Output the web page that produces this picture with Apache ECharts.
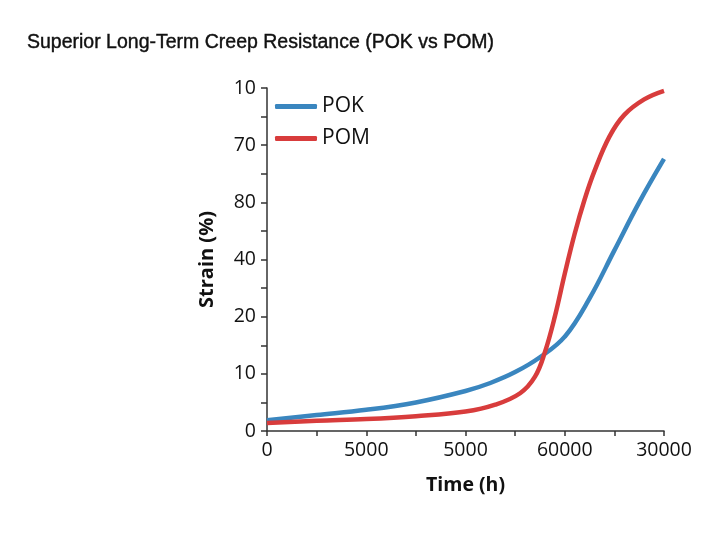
<!DOCTYPE html>
<html>
  <head>
    <meta charset="utf-8" />
    <title>Creep Resistance</title>
    <script src="https://cdn.jsdelivr.net/npm/echarts@6/dist/echarts.min.js"></script>
    <style>
      body { margin: 0; background: #fff; }
    </style>
  </head>
  <body>
    <div id="main" style="width: 714px; height: 540px"></div>
    <script type="text/javascript">
      // tick labels as printed on the original (positions are evenly spaced)
      var xTickLabels = ["0", "5000", "5000", "60000", "30000"];
      var yTickLabels = ["0", "10", "20", "40", "80", "70", "10"];

      // curves, in tick-position units [x, y]
      var pokData = [
        [0, 0.19], [0.5, 0.28], [1.0, 0.37], [1.5, 0.5], [2.0, 0.7],
        [2.25, 0.84], [2.5, 1.03], [2.75, 1.29], [3.0, 1.65], [3.25, 2.32],
        [3.5, 3.16], [3.75, 4.0], [4.0, 4.76]
      ];
      var pomData = [
        [0, 0.14], [0.5, 0.18], [1.0, 0.21], [1.5, 0.26], [2.0, 0.34],
        [2.3, 0.46], [2.55, 0.66], [2.7, 0.95], [2.8, 1.38], [2.9, 2.0],
        [3.0, 2.75], [3.1, 3.45], [3.2, 4.05], [3.3, 4.55], [3.45, 5.15],
        [3.6, 5.53], [3.8, 5.8], [4.0, 5.95]
      ];

      var myChart = echarts.init(document.getElementById("main"));

      var axisFont = { fontFamily: "Open Sans", fontSize: 19.5, color: "#111" };
      var axisStroke = { color: "#333", width: 1.5 };

      var option = {
        animation: false,
        title: {
          text: "Superior Long-Term Creep Resistance (POK vs POM)",
          left: 22,
          top: 28,
          textStyle: {
            fontFamily: "Liberation Sans", fontSize: 19.5, fontWeight: "normal", color: "#111",
            textBorderColor: "#111", textBorderWidth: 0.4
          }
        },
        legend: {
          orient: "vertical",
          left: 270,
          top: 91,
          itemGap: 11,
          itemWidth: 42,
          itemHeight: 5,
          icon: "roundRect",
          textStyle: { fontFamily: "Open Sans", fontSize: 21, color: "#111" },
          data: ["POK", "POM"]
        },
        grid: { left: 267, right: 50, top: 88, bottom: 109 },
        xAxis: {
          type: "value",
          min: 0,
          max: 4,
          interval: 1,
          name: "Time (h)",
          nameLocation: "middle",
          nameGap: 44,
          nameTextStyle: { fontFamily: "Open Sans", fontSize: 19.5, fontWeight: "bold", color: "#111" },
          axisLine: { lineStyle: axisStroke },
          axisTick: { show: true, length: 5, lineStyle: axisStroke },
          minorTick: { show: true, splitNumber: 2, length: 5, lineStyle: axisStroke },
          splitLine: { show: false },
          axisLabel: Object.assign({ margin: 9, formatter: function (v) { return xTickLabels[Math.round(v)]; } }, axisFont)
        },
        yAxis: {
          type: "value",
          min: 0,
          max: 6,
          interval: 1,
          name: "Strain (%)",
          nameLocation: "middle",
          nameGap: 50,
          nameTextStyle: { fontFamily: "Open Sans", fontSize: 20, fontWeight: "bold", color: "#111" },
          axisLine: { show: true, lineStyle: axisStroke },
          axisTick: { show: true, length: 6, lineStyle: axisStroke },
          minorTick: { show: true, splitNumber: 2, length: 6, lineStyle: axisStroke },
          splitLine: { show: false },
          axisLabel: Object.assign({ margin: 11, formatter: function (v) { return yTickLabels[Math.round(v)]; } }, axisFont)
        },
        series: [
          {
            name: "POK",
            type: "line",
            smooth: 0.4,
            showSymbol: false,
            color: "#3a86bf",
            lineStyle: { width: 4.5, color: "#3a86bf" },
            data: pokData
          },
          {
            name: "POM",
            type: "line",
            smooth: 0.4,
            showSymbol: false,
            color: "#d83c3c",
            lineStyle: { width: 4.5, color: "#d83c3c" },
            data: pomData
          }
        ]
      };

      myChart.setOption(option);
    </script>
  </body>
</html>
